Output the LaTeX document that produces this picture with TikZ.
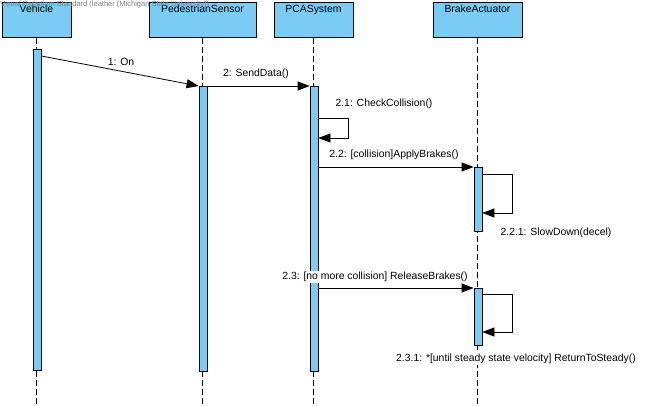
\documentclass[tikz,border=0pt]{standalone}
\usepackage{fontspec}
\setmainfont{Liberation Sans}
\usetikzlibrary{arrows.meta,calc}
\definecolor{vpblue}{RGB}{122,204,245}
\tikzset{
	head/.style={draw, fill=vpblue, minimum height=35pt, anchor=north, inner sep=0pt,
		label={[anchor=north, inner sep=3pt]north:#1}},
	bar/.style={draw, fill=vpblue, minimum width=8pt, inner sep=0pt, anchor=north},
	life/.style={dash pattern=on 6pt off 3pt},
	msg/.style={-{Triangle[length=12pt,width=9pt]}},
	lbl/.style={fill=white, inner sep=1pt},
}

\begin{document}
\begin{tikzpicture}[x=1pt, y=-1pt, font=\fontsize{10.4}{12}\selectfont, line width=0.8pt]
	\useasboundingbox (0,0) rectangle (658,406);

	% heads
	\node[head=Vehicle, minimum width=69pt] (veh) at (36.5,2) {};
	\node[head=PedestrianSensor, minimum width=107pt] (ped) at (202.5,2) {};
	\node[head=PCASystem, minimum width=79pt] (pca) at (313.5,2) {};
	\node[head=BrakeActuator, minimum width=89pt] (brk) at (477.5,2) {};

	% lifelines
	\coordinate (vehend) at (36.5,406);
	\coordinate (pedend) at (202.5,406);
	\coordinate (pcaend) at (313.5,406);
	\coordinate (brkend) at (477.5,406);
	\draw[life] (veh.south) -- (vehend);
	\draw[life] (ped.south) -- (pedend);
	\draw[life] (pca.south) -- (pcaend);
	\draw[life] (brk.south) -- (brkend);

	% activations
	\node[bar, minimum height=321pt] (vehbar) at (37,49) {};
	\node[bar, minimum height=285pt] (pedbar) at (203,86) {};
	\node[bar, minimum height=285pt] (pcabar) at (314,86) {};
	\node[bar, minimum height=64pt] (brkbar1) at (478,167) {};
	\node[bar, minimum height=57pt] (brkbar2) at (478,288) {};

	% messages
	\coordinate (on) at ($(vehbar.north east)+(0,7)$);
	\draw[msg] (on) -- (pedbar.north west);
	\draw[msg] (pedbar.north east) -- (pcabar.north west);

	\coordinate (chk1) at ($(pcabar.north east)+(0,32)$);
	\coordinate (chk2) at ($(pcabar.north east)+(0,52)$);
	\draw[msg] (chk1) -- ++(30,0) |- (chk2);

	\coordinate (apply) at ($(pcabar.north east)+(0,81)$);
	\draw[msg] (apply) -- (brkbar1.north west);

	\coordinate (slow1) at ($(brkbar1.north east)+(0,7)$);
	\coordinate (slow2) at ($(brkbar1.north east)+(0,46)$);
	\draw[msg] (slow1) -- ++(30,0) |- (slow2);

	\coordinate (release) at ($(pcabar.north east)+(0,202)$);
	\draw[msg] (release) -- (brkbar2.north west);

	\coordinate (ret1) at ($(brkbar2.north east)+(0,6)$);
	\coordinate (ret2) at ($(brkbar2.north east)+(0,44)$);
	\draw[msg] (ret1) -- ++(30,0) |- (ret2);

	% labels
	\node[lbl] (l1) at (121,62) {1: On};
	\node[lbl] (l2) at (256,74) {2: SendData()};
	\node[lbl] (l21) at (384,104) {2.1: CheckCollision()};
	\node[lbl] (l22) at (394,155) {2.2: [collision]ApplyBrakes()};
	\node[lbl] (l221) at (556,233) {2.2.1: SlowDown(decel)};
	\node[lbl] (l23) at (375,277) {2.3: [no more collision] ReleaseBrakes()};
	\node[lbl] (l231) at (516,359) {2.3.1: *[until steady state velocity] ReturnToSteady()};

	% watermark
	\node[anchor=west, inner sep=0pt, text=gray, font=\fontsize{7.5}{8}\selectfont] (wm) at (0,5)
		{Visual Paradigm Standard (leather (Michigan State University))};
\end{tikzpicture}
\end{document}
